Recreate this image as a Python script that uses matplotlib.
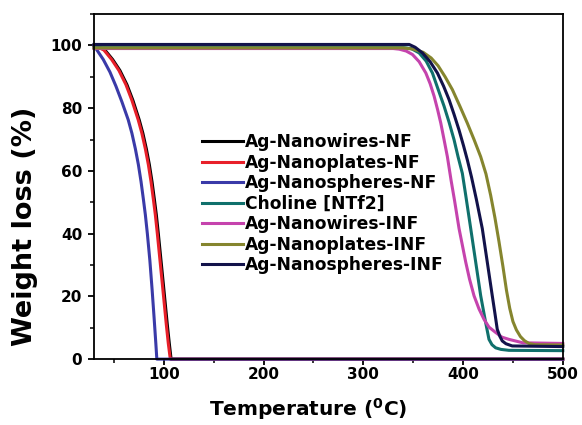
import matplotlib
matplotlib.use("Agg")
import matplotlib.pyplot as plt
from matplotlib.ticker import MultipleLocator

plt.rcParams['font.family'] = ['DejaVu Sans']
plt.rcParams['font.weight'] = 'bold'
plt.rcParams['mathtext.fontset'] = 'custom'
plt.rcParams['mathtext.rm'] = 'DejaVu Sans:bold'
plt.rcParams['mathtext.bf'] = 'DejaVu Sans:bold'

# values: temperature (C) and weight (%)
np_nf_t = [30, 34, 40, 47.7, 55, 62, 68, 74.3, 78, 81.5, 84.5, 87.2, 89.5, 91.5, 93.5, 96, 98.5, 100.5, 102.5, 104.5, 106.5, 500]
np_nf_w = [100, 99.5, 98.5, 95.5, 92, 87.5, 82.5, 76.3, 72, 67, 62, 56.5, 51, 46, 40, 32, 24, 17.5, 11, 5, 0, 0]

nw_nf_t = [30, 35, 41, 48.7, 56, 63, 69, 75.3, 79, 82.5, 85.5, 88.2, 90.5, 92.5, 94.5, 97, 99.5, 101.5, 103.5, 105.5, 107.3, 500]
nw_nf_w = [100, 99.5, 98.5, 95.5, 92, 87.5, 82.5, 76.3, 72, 67, 62, 56.5, 51, 46, 40, 32, 24, 17.5, 11, 5, 0, 0]

ns_nf_t = [30, 33, 39.3, 46, 52, 58, 64.3, 68, 71.5, 74.5, 77.2, 79.5, 81.5, 83.5, 86, 88.3, 90.3, 92, 93, 500]
ns_nf_w = [100, 98.5, 95.5, 91.5, 87, 82, 76.3, 72, 67, 62, 56.5, 51, 46, 40, 31.5, 22, 13, 5, 0, 0]

chol_t = [30, 340, 348, 356, 363, 369.3, 375, 381, 386, 391, 395, 399.3, 402.7, 407.7, 412.7, 417.7, 422.7, 426, 429, 432.7, 438, 446, 500]
chol_w = [99.3, 99.3, 99, 97.6, 95, 91.2, 86, 80.6, 75.5, 69.9, 64.5, 59.2, 52.2, 41.6, 30.9, 20.2, 11.6, 6.3, 4.6, 3.6, 3.1, 2.8, 2.7]

nw_inf_t = [30, 330, 336, 343, 349.3, 356, 362.7, 367, 371, 374.5, 377.7, 381, 384.3, 388, 391.5, 396, 402.7, 406.5, 411, 416, 421, 426, 432.7, 439, 446, 460, 500]
nw_inf_w = [99, 99, 98.8, 98.2, 97.1, 94.8, 91.2, 87.8, 83.8, 79.5, 75.2, 69.9, 64.5, 57, 50.5, 41.6, 30.9, 25.5, 20.2, 16, 12.7, 10.2, 8.5, 7, 6.3, 5.2, 5.0]

np_inf_t = [30, 340, 350, 360, 368, 375, 382, 389.3, 397, 404.3, 411, 417.7, 423, 427.7, 432, 436, 440, 443.5, 446.8, 450, 453.5, 457.5, 461.5, 466, 472, 500]
np_inf_w = [99.2, 99.2, 98.8, 97.8, 96, 93.5, 90, 85.9, 80.5, 75.2, 70, 64.5, 59, 52.2, 45, 37.5, 29.5, 22, 16.2, 12, 9.3, 7.2, 5.9, 5.0, 4.6, 4.5]

ns_inf_t = [30, 346, 352, 359.3, 367, 374.3, 380.5, 386, 391, 396, 400.5, 404.3, 408.5, 413.3, 419.3, 424.3, 429.3, 432, 434.3, 437, 439.3, 443, 449.3, 500]
ns_inf_w = [100.3, 100.3, 99.4, 97.6, 94.8, 91.2, 87, 82.7, 78, 73, 68, 63.5, 58, 51, 41.6, 30.9, 20.2, 14.5, 9.5, 7.2, 5.8, 4.9, 4.2, 4.0]

labels = ['Ag-Nanowires-NF', 'Ag-Nanoplates-NF', 'Ag-Nanospheres-NF', 'Choline [NTf2]',
          'Ag-Nanowires-INF', 'Ag-Nanoplates-INF', 'Ag-Nanospheres-INF']
colors = ['#000000', '#e8202a', '#3a3aa8', '#10706c', '#c543ad', '#85852e', '#12124a']

series = [(nw_nf_t, nw_nf_w), (np_nf_t, np_nf_w), (ns_nf_t, ns_nf_w), (chol_t, chol_w),
          (nw_inf_t, nw_inf_w), (np_inf_t, np_inf_w), (ns_inf_t, ns_inf_w)]

fig = plt.figure(figsize=(5.82, 4.25), dpi=100)
ax = fig.add_axes([0.1615, 0.155, 0.8055, 0.812])

for (t, w), lab, c in zip(series, labels, colors):
    ax.plot(t, w, color=c, lw=2.2, label=lab, clip_on=False, solid_joinstyle='round')

ax.set_xlim(30, 500)
ax.set_ylim(0, 110)
ax.xaxis.set_major_locator(MultipleLocator(100))
ax.xaxis.set_minor_locator(MultipleLocator(50))
ax.yaxis.set_major_locator(MultipleLocator(20))
ax.yaxis.set_minor_locator(MultipleLocator(10))
ax.tick_params(which='major', direction='out', length=4.5, width=1.3, labelsize=11)
ax.tick_params(which='minor', direction='out', length=3, width=1.1)
ax.tick_params(axis='x', which='major', pad=1.5)
ax.tick_params(axis='y', which='major', pad=4)
for s in ax.spines.values():
    s.set_linewidth(1.3)

ax.set_xlabel('Temperature ($^0$C)', fontsize=14.5, fontweight='bold')
ax.set_ylabel('Weight loss (%)', fontsize=19.5, fontweight='bold')
ax.xaxis.set_label_coords(0.456, -0.106)
ax.yaxis.set_label_coords(-0.12, 0.385)

ax.legend(loc='upper left', bbox_to_anchor=(0.23, 0.655), frameon=False,
          prop={'size': 12.3, 'weight': 'bold'}, handlelength=2.4,
          handletextpad=0.15, labelspacing=0.15, borderpad=0, borderaxespad=0)

fig.savefig('out.png', dpi=100)
